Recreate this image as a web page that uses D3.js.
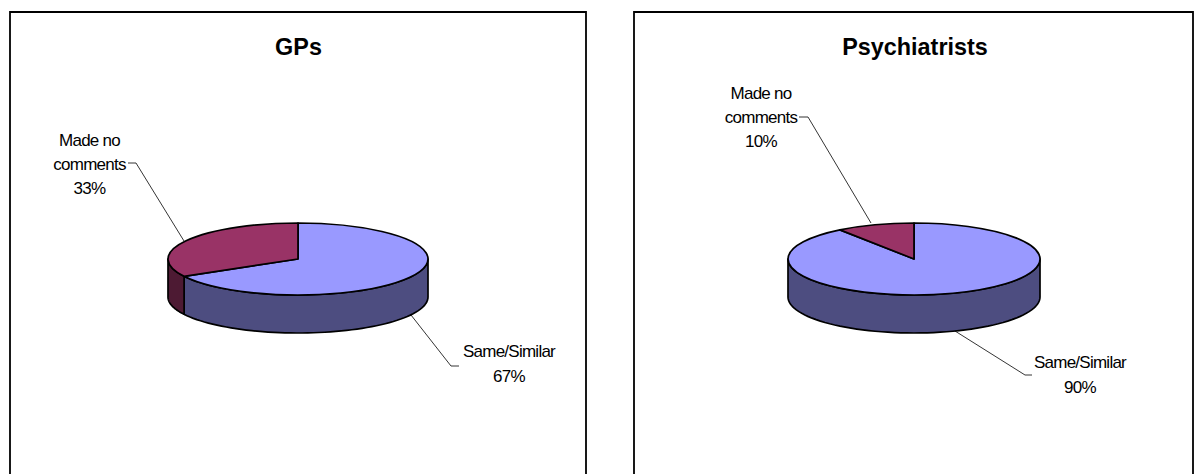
<!DOCTYPE html>
<html>
<head>
<meta charset="utf-8">
<script src="https://cdn.jsdelivr.net/npm/d3@7"></script>
<style>
html, body { margin: 0; padding: 0; background: #fff; }
svg { display: block; }
text { font-family: "Liberation Sans", Arial, sans-serif; fill: #000; }
</style>
</head>
<body>
<svg id="chart" width="1194" height="474"></svg>
<script>
const categories = ["Same/Similar", "Made no comments"];
const titles = ["GPs", "Psychiatrists"];
const gpValues = [67, 33];
const psychiatristValues = [90, 10];
const topColors = ["#9999FF", "#993366"];
const wallColors = ["#4D4D80", "#4D1A33"];

// Panel layout, one entry per chart. Label positions are text baselines.
const panels = [
  { title: titles[0], values: gpValues, frame: [10, 12, 586], cx: 298, rx: 130, titleX: 298.5,
    sameLabel: [509, 357], otherLabel: [89.5, 146],
    sameLeader: [[411, 315], [451, 366], [459, 366]],
    otherLeader: [[184, 241], [136, 163], [128, 163]] },
  { title: titles[1], values: psychiatristValues, frame: [634, 12, 1193], cx: 914, rx: 126, titleX: 915,
    sameLabel: [1080, 368], otherLabel: [761, 99],
    sameLeader: [[955, 331], [1025, 375], [1032, 375]],
    otherLeader: [[871, 223], [808, 117], [799, 117]] }
];
const cy = 259, ry = 36, depth = 38;

const svg = d3.select("#chart");
const pie = d3.pie().sort(null).value(d => d);
const line = d3.line();

panels.forEach(p => {
  const g = svg.append("g");

  // Frame runs off the bottom of the page, so only three sides are visible.
  g.append("path")
    .attr("d", line([[p.frame[0], 474], [p.frame[0], p.frame[1]], [p.frame[2], p.frame[1]], [p.frame[2], 474]]))
    .attr("fill", "#fff").attr("stroke", "#000").attr("stroke-width", 1.8);

  g.append("text").attr("x", p.titleX).attr("y", 55)
    .attr("text-anchor", "middle").attr("font-weight", "bold").attr("font-size", 23.4)
    .text(p.title);

  const arcs = pie(p.values);
  const xOf = a => p.cx + p.rx * Math.sin(a);
  const yOf = a => cy - ry * Math.cos(a);

  // Side walls: the part of each slice's rim that faces the viewer.
  arcs.forEach((a, i) => {
    const from = Math.max(a.startAngle, Math.PI / 2);
    const to = Math.min(a.endAngle, 3 * Math.PI / 2);
    if (to <= from) return;
    const angles = d3.range(0, 61).map(k => from + (to - from) * k / 60);
    const top = angles.map(t => [xOf(t), yOf(t)]);
    const bottom = angles.map(t => [xOf(t), yOf(t) + depth]).reverse();
    g.append("path")
      .attr("d", line(top.concat(bottom)) + "Z")
      .attr("fill", wallColors[i]).attr("stroke", "#000").attr("stroke-width", 1.7)
      .attr("stroke-linejoin", "round");
  });

  // Top face: circular d3.arc slices squashed into an ellipse.
  const arc = d3.arc().innerRadius(0).outerRadius(p.rx);
  g.append("g")
    .attr("transform", `translate(${p.cx},${cy}) scale(1,${ry / p.rx})`)
    .selectAll("path").data(arcs).join("path")
    .attr("d", arc)
    .attr("fill", (d, i) => topColors[i])
    .attr("stroke", "#000").attr("stroke-width", 1.7)
    .attr("stroke-linejoin", "round")
    .attr("vector-effect", "non-scaling-stroke");

  // Leader lines from the pie to each label.
  [p.sameLeader, p.otherLeader].forEach(pts => {
    g.append("path").attr("d", line(pts)).attr("fill", "none")
      .attr("stroke", "#000").attr("stroke-width", 0.8);
  });

  // Data labels: category name over percentage, each line centred.
  const labelLines = [
    { at: p.sameLabel, lines: [categories[0], p.values[0] + "%"], step: 25 },
    { at: p.otherLabel, lines: ["Made no", "comments", p.values[1] + "%"], step: 24 }
  ];
  labelLines.forEach(l => {
    l.lines.forEach((s, i) => {
      g.append("text")
        .attr("x", l.at[0]).attr("y", l.at[1] + i * l.step)
        .attr("text-anchor", "middle")
        .attr("font-size", 17).attr("letter-spacing", -0.75)
        .text(s);
    });
  });
});
</script>
</body>
</html>
